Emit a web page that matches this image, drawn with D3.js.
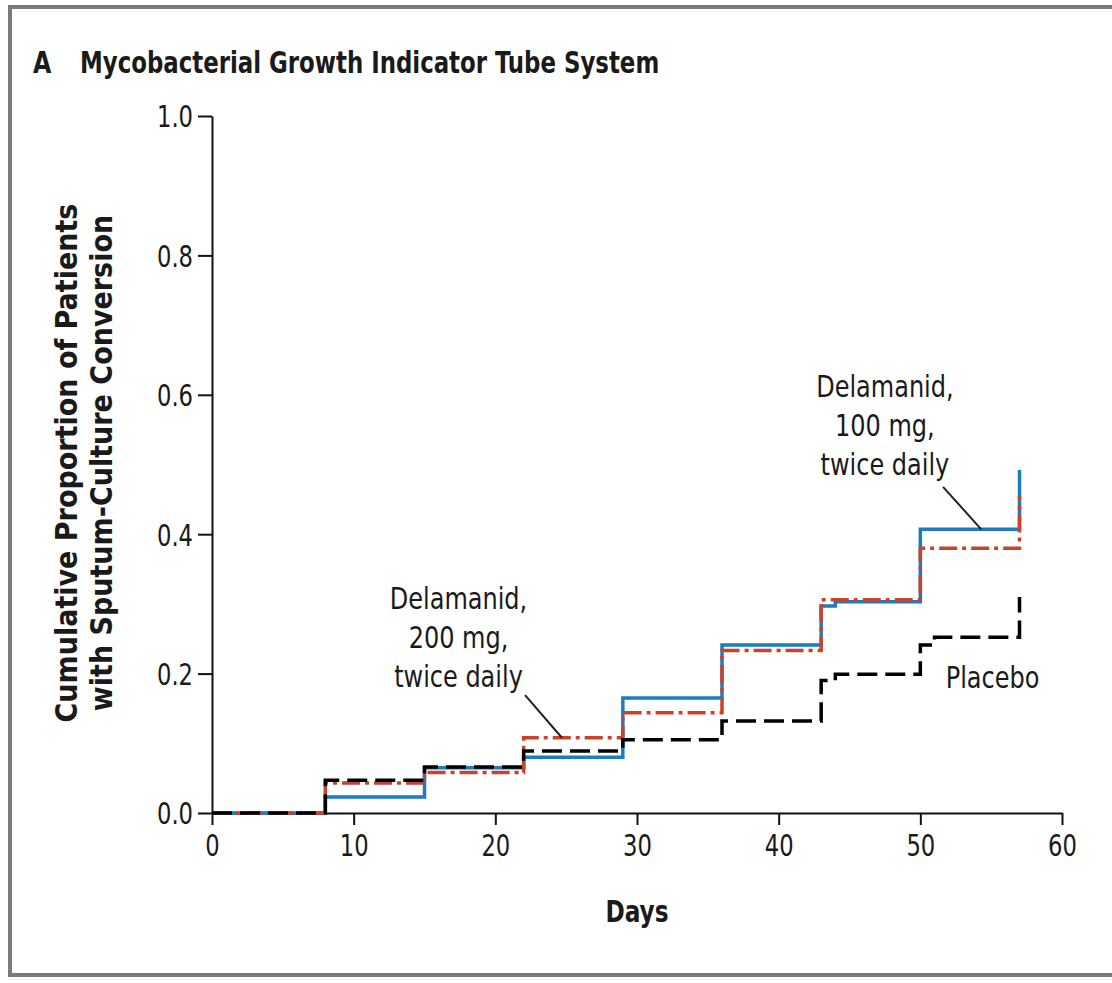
<!DOCTYPE html>
<html lang="en">
<head>
<meta charset="UTF-8" />
<title>Sputum-Culture Conversion</title>
<script src="https://d3js.org/d3.v7.min.js"></script>
<style>
  body { margin: 0; background: #fff; }
  text { font-family: "DejaVu Sans Condensed", "Liberation Sans", sans-serif; fill: #1a1a1a; }
</style>
</head>
<body>
<div id="chart"></div>
<script>
var w = 1112;
var h = 983;

// step data: day of step and cumulative proportion after it
var days100 = [0, 8, 15, 22, 29, 36, 43, 44, 50, 57];
var prop100 = [0, 0.023, 0.065, 0.080, 0.165, 0.241, 0.297, 0.303, 0.407, 0.492];
var days200 = [0, 8, 15, 22, 29, 36, 43, 50, 57];
var prop200 = [0, 0.043, 0.058, 0.108, 0.144, 0.233, 0.306, 0.380, 0.455];
var daysPlacebo = [0, 8, 15, 22, 29, 36, 43, 44, 50, 51, 57];
var propPlacebo = [0, 0.047, 0.066, 0.089, 0.105, 0.132, 0.190, 0.199, 0.241, 0.252, 0.310];

var xTicks = [0, 10, 20, 30, 40, 50, 60];
var yTicks = [0, 0.2, 0.4, 0.6, 0.8, 1.0];

var svg = d3.select("#chart")
    .append("svg")
    .attr("width", w)
    .attr("height", h);

// squeeze text horizontally, the original uses a condensed face
function condense(sel, k) {
    sel.each(function () {
        var len = this.getComputedTextLength();
        d3.select(this)
            .attr("textLength", len * k)
            .attr("lengthAdjust", "spacingAndGlyphs");
    });
}

// panel frame
svg.append("rect")
    .attr("x", 10).attr("y", 7)
    .attr("width", w + 10).attr("height", 968)
    .style("fill", "none")
    .style("stroke", "#7a7a7a")
    .style("stroke-width", 4);

svg.append("text")
    .attr("x", 33).attr("y", 73)
    .style("font-weight", "bold")
    .style("font-size", "31px")
    .text("A")
    .call(condense, 0.85);
svg.append("text")
    .attr("x", 80).attr("y", 73)
    .style("font-weight", "bold")
    .style("font-size", "31px")
    .text("Mycobacterial Growth Indicator Tube System")
    .call(condense, 0.82);

var xScale = d3.scaleLinear().domain([0, 60]).range([212, 1062]);
var yScale = d3.scaleLinear().domain([0, 1]).range([813, 116]);

var xAxis = d3.axisBottom(xScale)
    .tickValues(xTicks)
    .tickSize(12)
    .tickSizeOuter(0)
    .tickPadding(10)
    .tickFormat(d3.format("d"));

var yAxis = d3.axisLeft(yScale)
    .tickValues(yTicks)
    .tickSize(14)
    .tickSizeOuter(0)
    .tickPadding(5)
    .tickFormat(d3.format(".1f"));

var gx = svg.append("g")
    .attr("transform", "translate(0,813)")
    .call(xAxis);
var gy = svg.append("g")
    .attr("transform", "translate(212,0)")
    .call(yAxis);

[gx, gy].forEach(function (g) {
    g.selectAll("path, line").style("stroke", "#111").style("stroke-width", 2);
    g.selectAll("text")
        .style("font-size", "30px")
        .style("font-family", "'DejaVu Sans Condensed', sans-serif")
        .style("fill", "#1a1a1a")
        .call(condense, 0.84);
});
gy.selectAll("text").attr("dy", "0.36em");

// axis titles
svg.append("text")
    .attr("x", 637).attr("y", 922)
    .attr("text-anchor", "middle")
    .style("font-weight", "bold")
    .style("font-size", "30px")
    .text("Days")
    .call(condense, 0.86);

var yTitle = svg.append("text")
    .attr("transform", "translate(77,463) rotate(-90)")
    .attr("text-anchor", "middle")
    .style("font-weight", "bold")
    .style("font-size", "30px");
yTitle.append("tspan").attr("x", 0).attr("y", 0).text("Cumulative Proportion of Patients");
yTitle.append("tspan").attr("x", 0).attr("y", 35).text("with Sputum-Culture Conversion");

var line = d3.line()
    .x(function (d) { return xScale(d[0]); })
    .y(function (d) { return yScale(d[1]); })
    .curve(d3.curveStepAfter);

function pairs(days, props) {
    return days.map(function (d, i) { return [d, props[i]]; });
}

var series = [
    { name: "100", data: pairs(days100, prop100), color: "#1b7cc1", dash: null },
    { name: "200", data: pairs(days200, prop200), color: "#c9432b", dash: "18,5,4,5" },
    { name: "placebo", data: pairs(daysPlacebo, propPlacebo), color: "#000", dash: "20,8" }
];

svg.selectAll(".km-line")
    .data(series)
    .enter()
    .append("path")
    .attr("class", "km-line")
    .attr("d", function (d) { return line(d.data); })
    .style("fill", "none")
    .style("stroke", function (d) { return d.color; })
    .style("stroke-width", 3.5)
    .style("stroke-dasharray", function (d) { return d.dash; });

// annotations with leader lines (data coordinates)
var notes = [
    { lines: ["Delamanid,", "100 mg,", "twice daily"], x: 47.5, y: 0.597, from: [51.6, 0.468], to: [54.3, 0.407] },
    { lines: ["Delamanid,", "200 mg,", "twice daily"], x: 17.4, y: 0.293, from: [22.1, 0.169], to: [24.7, 0.108] },
    { lines: ["Placebo"], x: 55.1, y: 0.18 }
];

notes.forEach(function (n) {
    var t = svg.append("text")
        .attr("text-anchor", "middle")
        .style("font-size", "31px");
    n.lines.forEach(function (s, i) {
        t.append("tspan")
            .attr("x", xScale(n.x))
            .attr("y", yScale(n.y) + i * 39)
            .text(s)
            .call(condense, 0.86);
    });
    if (n.from) {
        svg.append("line")
            .attr("x1", xScale(n.from[0])).attr("y1", yScale(n.from[1]))
            .attr("x2", xScale(n.to[0])).attr("y2", yScale(n.to[1]))
            .style("stroke", "#222")
            .style("stroke-width", 2);
    }
});
</script>
</body>
</html>
